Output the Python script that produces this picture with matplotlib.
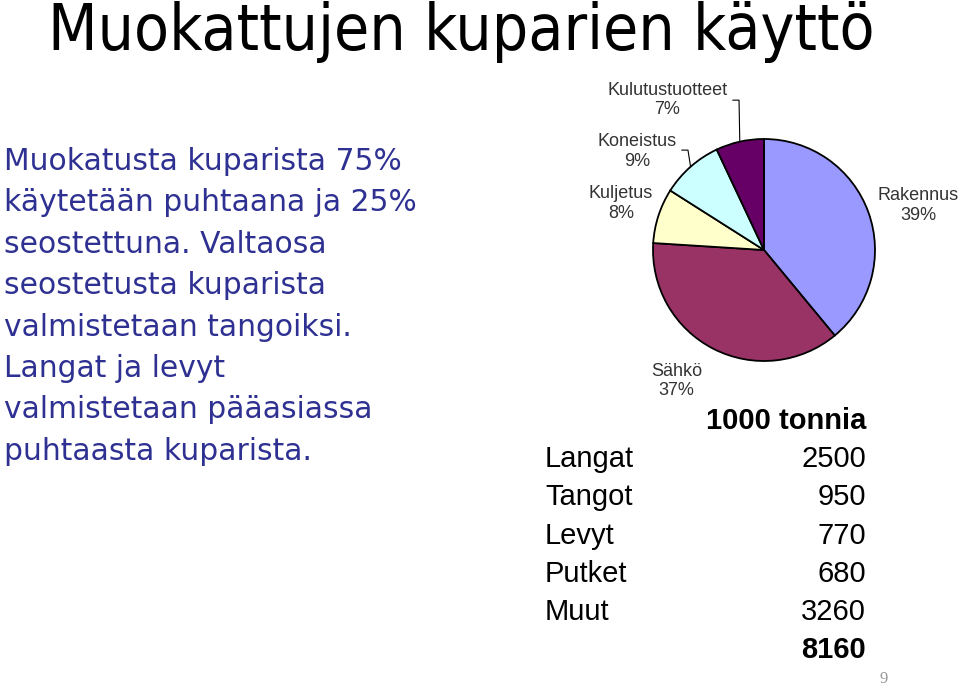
import matplotlib
matplotlib.use("Agg")
import matplotlib.pyplot as plt
import numpy as np

# pie data (share of use, %)
sectors = ["Rakennus", "Sähkö", "Kuljetus", "Koneistus", "Kulutustuotteet"]
shares = [39, 37, 8, 9, 7]
colors = ["#9999FF", "#993366", "#FFFFCC", "#CCFFFF", "#660066"]

# table data (1000 tonnia)
products = ["Langat", "Tangot", "Levyt", "Putket", "Muut"]
tonnes = [2500, 950, 770, 680, 3260]

title = "Muokattujen kuparien käyttö"
body = ["Muokatusta kuparista 75%",
        "käytetään puhtaana ja 25%",
        "seostettuna. Valtaosa",
        "seostetusta kuparista",
        "valmistetaan tangoiksi.",
        "Langat ja levyt",
        "valmistetaan pääasiassa",
        "puhtaasta kuparista."]

W, H = 960, 687
fig = plt.figure(figsize=(W / 100, H / 100), dpi=100)
fig.patch.set_facecolor("white")

fig.text(48 / W, 1 - 50 / H, title, fontsize=46, family="DejaVu Sans",
         fontstretch="condensed", va="baseline", ha="left", color="black")

for i, line in enumerate(body):
    fig.text(4 / W, 1 - (170 + i * 41.4) / H, line, fontsize=21.4,
             family="DejaVu Sans", va="baseline", ha="left", color="#2E3192")

# pie axes: center (764, 250) px, radius 111 px
cx, cy, r = 764, 250, 111
ax = fig.add_axes([(cx - r) / W, 1 - (cy + r) / H, 2 * r / W, 2 * r / H])
wedges, _ = ax.pie(shares, colors=colors, startangle=90, counterclock=False,
                   radius=1, wedgeprops=dict(edgecolor="black", linewidth=1.3))
ax.set_xlim(-1, 1)
ax.set_ylim(-1, 1)
ax.axis("off")

label_pos = {
    "Rakennus": (1.39, 0.40),
    "Sähkö": (-0.79, -1.18),
    "Kuljetus": (-1.29, 0.42),
    "Koneistus": (-1.14, 0.89),
    "Kulutustuotteet": (-0.87, 1.35),
}
for name, val in zip(sectors, shares):
    x, y = label_pos[name]
    ax.text(x, y, f"{name}\n{val}%", ha="center", va="center", fontsize=13,
            family="Liberation Sans", color="#333333", linespacing=1.2,
            clip_on=False)

# leader lines for the two small slices
elbows = {"Koneistus": (-0.74, -0.685, 0.90), "Kulutustuotteet": (-0.28, -0.225, 1.35)}
for w, name in zip(wedges, sectors):
    if name in elbows:
        x0, x1, yl = elbows[name]
        mid = np.deg2rad((w.theta1 + w.theta2) / 2)
        ex, ey = np.cos(mid), np.sin(mid)
        ax.plot([x0, x1, ex], [yl, yl, ey], color="black", lw=0.8, clip_on=False)

# table
tx_l, tx_r = 545 / W, 866 / W
fs = 21
fig.text(tx_r, 1 - 421 / H, "1000 tonnia", fontsize=fs, family="Liberation Sans",
         weight="bold", ha="right", va="center")
for i, (p, t) in enumerate(zip(products, tonnes)):
    y = 1 - (459 + i * 38.3) / H
    fig.text(tx_l, y, p, fontsize=fs, family="Liberation Sans", ha="left", va="center")
    fig.text(tx_r, y, str(t), fontsize=fs, family="Liberation Sans", ha="right", va="center")
fig.text(tx_r, 1 - 650 / H, str(sum(tonnes)), fontsize=fs, family="Liberation Sans",
         weight="bold", ha="right", va="center")

fig.text(884 / W, 1 - 679 / H, "9", fontsize=12, family="Liberation Serif",
         color="#999999", ha="center", va="center")

fig.savefig("out.png", dpi=100)
